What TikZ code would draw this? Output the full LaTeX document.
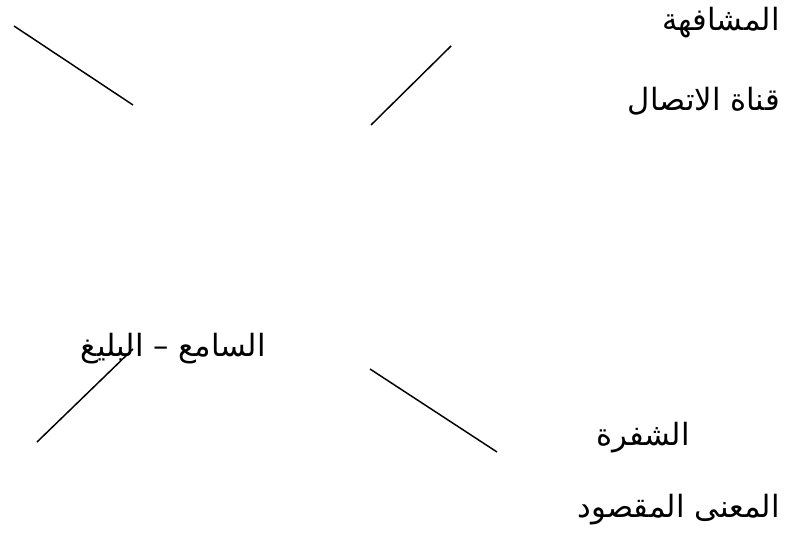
\documentclass[tikz,border=0pt]{standalone}
\usepackage{fontspec}
\newfontfamily\arabicfont[Script=Arabic]{DejaVu Sans}
\TeXXeTstate=1

\begin{document}
\begin{tikzpicture}[
            x=0.75pt, y=-0.75pt,
            word/.style={
                anchor=east,
                inner sep=0pt,
                font=\arabicfont\fontsize{23}{26}\selectfont
            },
            stroke/.style={line width=1.1pt}
        ]
        \useasboundingbox (0,0) rectangle (788,538);

        \node[word] (oral)    at (780, 23)  {\beginR المشافهة\endR};
        \node[word] (channel) at (780, 101) {\beginR قناة الاتصال\endR};
        \node[word] (hearer)  at (266, 349) {\beginR السامع – البليغ\endR};
        \node[word] (code)    at (690, 438) {\beginR الشفرة\endR};
        \node[word] (meaning) at (780, 510) {\beginR المعنى المقصود\endR};

        \draw[stroke] (14, 26)  -- (133, 105);
        \draw[stroke] (451, 46) -- (371, 125);
        \draw[stroke] (370, 369) -- (497, 452);
        \draw[stroke] (133, 349) -- (37, 442);
\end{tikzpicture}
\end{document}
